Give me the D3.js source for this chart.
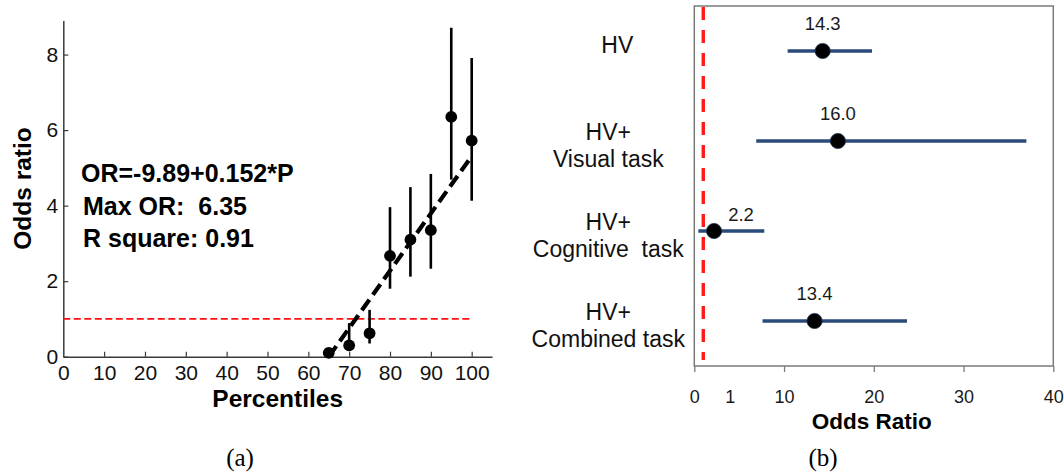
<!DOCTYPE html>
<html>
<head>
<meta charset="utf-8">
<script src="https://cdn.jsdelivr.net/npm/d3@7/dist/d3.min.js"></script>
<style>
  html, body { margin: 0; padding: 0; background: #fff; }
  svg { display: block; }
  text { font-family: "Liberation Sans", Arial, Helvetica, sans-serif; }
</style>
</head>
<body>
<svg id="fig" width="1064" height="473"></svg>
<script>
// ---- Panel (a): odds ratio by percentile with linear fit ----
const percentiles = [65, 70, 75, 80, 85, 90, 95, 100];
const oddsRatios  = [0.10, 0.30, 0.62, 2.67, 3.10, 3.35, 6.35, 5.72];
const ciLow       = [0.03, 0.15, 0.35, 1.80, 2.12, 2.33, 4.69, 4.13];
const ciHigh      = [0.22, 0.89, 1.24, 3.96, 4.49, 4.84, 8.71, 7.91];
const fitIntercept = -9.89;
const fitSlope = 0.152;
const fitRange = [65, 100];
const referenceOR = 1;
const percentileTicks = [0, 10, 20, 30, 40, 50, 60, 70, 80, 90, 100];
const oddsTicks = [0, 2, 4, 6, 8];
const fitNotes = ["OR=-9.89+0.152*P", "Max OR:  6.35", "R square: 0.91"];

// ---- Panel (b): forest plot of odds ratios by condition ----
const conditions = [["HV"], ["HV+", "Visual task"], ["HV+", "Cognitive  task"], ["HV+", "Combined task"]];
const conditionOR   = [14.3, 16.0, 2.2, 13.4];
const conditionLow  = [10.4, 6.9, 0.45, 7.6];
const conditionHigh = [19.8, 37.0, 7.8, 23.7];
const orTicks = [0, 10, 20, 30, 40];
const captions = ["(a)", "(b)"];

const svg = d3.select("#fig");
svg.append("rect").attr("width", 1064).attr("height", 473).attr("fill", "#fff");

// ================= Panel (a) =================
const xA = d3.scaleLinear().domain([0, 105]).range([63.3, 492.1]);
const yA = d3.scaleLinear().domain([0, 8.9]).range([356.7, 20.6]);
const gA = svg.append("g");
const axisColor = "#3a3a3a";

const xAxisA = gA.append("g")
  .attr("transform", `translate(0,${yA(0)})`)
  .call(d3.axisBottom(xA).tickValues(percentileTicks).tickSizeInner(-5).tickSizeOuter(0).tickPadding(8.5));
const yAxisA = gA.append("g")
  .attr("transform", `translate(${xA(0)},0)`)
  .call(d3.axisLeft(yA).tickValues(oddsTicks).tickSizeInner(-5).tickSizeOuter(0).tickPadding(5));
[xAxisA, yAxisA].forEach(ax => {
  ax.select(".domain").attr("stroke", axisColor).attr("stroke-width", 1.5);
  ax.selectAll(".tick line").attr("stroke", axisColor).attr("stroke-width", 1.2);
  ax.selectAll(".tick text").attr("fill", "#111").style("font-size", "21px");
});
xAxisA.selectAll(".tick").filter(d => d === 0).select("line").remove();

// reference line OR = 1
gA.append("line")
  .attr("x1", xA(0)).attr("x2", xA(100))
  .attr("y1", yA(referenceOR)).attr("y2", yA(referenceOR))
  .attr("stroke", "#ff1010").attr("stroke-width", 1.8)
  .attr("stroke-dasharray", "7,3.5");

// error bars
gA.selectAll(".err").data(percentiles).enter().append("line")
  .attr("x1", d => xA(d)).attr("x2", d => xA(d))
  .attr("y1", (d, i) => yA(ciLow[i])).attr("y2", (d, i) => yA(ciHigh[i]))
  .attr("stroke", "#000").attr("stroke-width", 2.6);

// fitted line
const fit = p => fitIntercept + fitSlope * p;
gA.append("line")
  .attr("x1", xA(fitRange[0])).attr("y1", yA(Math.max(0, fit(fitRange[0]))))
  .attr("x2", xA(fitRange[1])).attr("y2", yA(fit(fitRange[1])))
  .attr("stroke", "#000").attr("stroke-width", 4.2)
  .attr("stroke-dasharray", "13,6");

// points
gA.selectAll(".pt").data(percentiles).enter().append("circle")
  .attr("cx", d => xA(d)).attr("cy", (d, i) => yA(oddsRatios[i]))
  .attr("r", 5.9).attr("fill", "#000");

// fit annotation
const noteX = [81, 83, 83];
const noteY = [181.7, 214.5, 247];
gA.selectAll(".note").data(fitNotes).enter().append("text")
  .attr("x", (d, i) => noteX[i]).attr("y", (d, i) => noteY[i])
  .attr("xml:space", "preserve").style("white-space", "pre")
  .style("font-size", "25px").style("font-weight", "bold").attr("fill", "#000")
  .text(d => d);

// axis titles
gA.append("text")
  .attr("x", (xA.range()[0] + xA.range()[1]) / 2).attr("y", 406.5)
  .attr("text-anchor", "middle").style("font-size", "24.5px").style("font-weight", "bold")
  .text("Percentiles");
gA.append("text")
  .attr("transform", `translate(31,188.5) rotate(-90)`)
  .attr("text-anchor", "middle").style("font-size", "24.5px").style("font-weight", "bold")
  .text("Odds ratio");

// ================= Panel (b) =================
const xB = d3.scaleLinear().domain([0, 40]).range([694.3, 1053.3]);
const yB = d3.scaleBand().domain(d3.range(conditions.length)).range([6, 366]);
const rowY = i => yB(i) + yB.bandwidth() / 2;
const gB = svg.append("g");
const frameColor = "#7a7a7a";
const ciColor = "#2a4a7a";

gB.append("rect")
  .attr("x", xB(0)).attr("y", yB.range()[0])
  .attr("width", xB(40) - xB(0)).attr("height", yB.range()[1] - yB.range()[0])
  .attr("fill", "none").attr("stroke", frameColor).attr("stroke-width", 1.5);

const xAxisB = gB.append("g")
  .attr("transform", `translate(0,${yB.range()[1]})`)
  .call(d3.axisBottom(xB).tickValues(orTicks).tickSizeInner(6).tickSizeOuter(0).tickPadding(18));
xAxisB.select(".domain").remove();
xAxisB.selectAll(".tick line").attr("stroke", frameColor).attr("stroke-width", 1.3);
xAxisB.selectAll(".tick text").attr("fill", "#1a1a1a").style("font-size", "18px");
// extra label marking the reference value
xAxisB.append("text")
  .attr("x", xB(referenceOR) + 27).attr("y", 6 + 18 + 0.71 * 18)
  .attr("text-anchor", "middle").attr("fill", "#1a1a1a").style("font-size", "18px")
  .text(referenceOR);

// reference line OR = 1
gB.append("line")
  .attr("x1", xB(referenceOR)).attr("x2", xB(referenceOR))
  .attr("y1", yB.range()[0] + 1).attr("y2", yB.range()[1] - 6)
  .attr("stroke", "#ff1a1a").attr("stroke-width", 3.4)
  .attr("stroke-dasharray", "13,10");

// confidence intervals
gB.selectAll(".ci").data(conditionOR).enter().append("line")
  .attr("x1", (d, i) => xB(conditionLow[i])).attr("x2", (d, i) => xB(conditionHigh[i]))
  .attr("y1", (d, i) => rowY(i)).attr("y2", (d, i) => rowY(i))
  .attr("stroke", ciColor).attr("stroke-width", 3.5);

// point estimates
gB.selectAll(".est").data(conditionOR).enter().append("circle")
  .attr("cx", d => xB(d)).attr("cy", (d, i) => rowY(i))
  .attr("r", 7.6).attr("fill", "#000").attr("stroke", "#1c2f50").attr("stroke-width", 0.8);

// value labels; a label that would sit on the reference line moves right
gB.selectAll(".val").data(conditionOR).enter().append("text")
  .each(function (d, i) {
    const crowded = xB(d) - 20 < xB(referenceOR) + 4;
    d3.select(this)
      .attr("x", crowded ? xB(d) + 27 : xB(d))
      .attr("y", crowded ? rowY(i) - 10.5 : rowY(i) - 21.5);
  })
  .attr("text-anchor", "middle").attr("fill", "#1a1a1a").style("font-size", "18.5px")
  .text(d => d.toFixed(1));

// condition labels
const labelX = xB(0) - 86;
conditions.forEach((lines, i) => {
  const t = gB.append("text")
    .attr("text-anchor", "middle").attr("fill", "#111")
    .attr("xml:space", "preserve").style("white-space", "pre")
    .style("font-size", "23px");
  if (lines.length === 1) {
    t.append("tspan").attr("x", labelX + 9).attr("y", rowY(i) + 2).text(lines[0]);
  } else {
    lines.forEach((s, k) => {
      t.append("tspan").attr("x", labelX).attr("y", rowY(i) - 1 + k * 27).text(s);
    });
  }
});

gB.append("text")
  .attr("x", (xB(0) + xB(40)) / 2 - 2).attr("y", 428.5)
  .attr("text-anchor", "middle").style("font-size", "22.5px").style("font-weight", "bold")
  .text("Odds Ratio");

// ---- captions ----
const captionX = [240, 823];
svg.selectAll(".cap").data(captions).enter().append("text")
  .attr("x", (d, i) => captionX[i]).attr("y", 466)
  .attr("text-anchor", "middle")
  .style("font-family", "'Liberation Serif', 'Times New Roman', serif")
  .style("font-size", "25px").attr("fill", "#000")
  .text(d => d);
</script>
</body>
</html>
